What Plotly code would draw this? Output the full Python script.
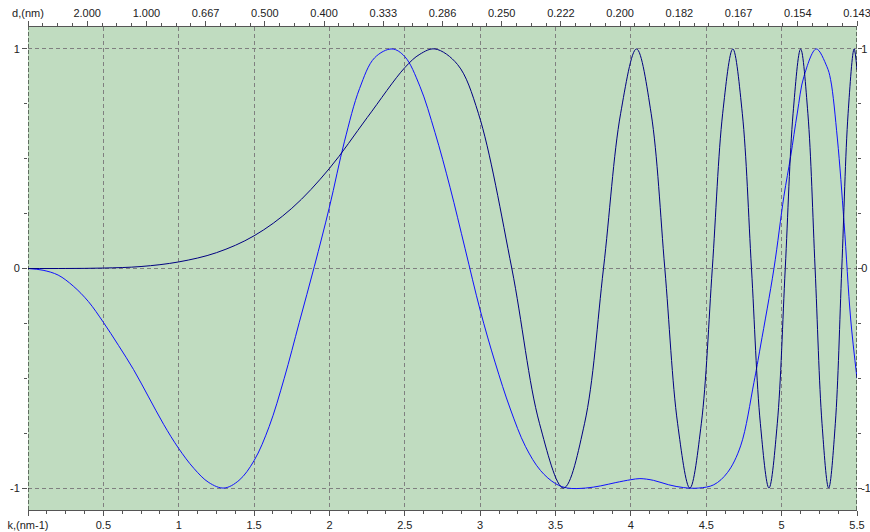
import plotly.graph_objects as go

# ---- data ----
k_tick_vals = [0, 0.5, 1, 1.5, 2, 2.5, 3, 3.5, 4, 4.5, 5, 5.5]
k_tick_text = ["k,(nm-1)", "0.5", "1", "1.5", "2", "2.5", "3", "3.5", "4", "4.5", "5", "5.5"]
# top axis: evenly spaced ticks (0 .. 7 in steps of 0.5), labelled in d (nm)
d_tick_vals = [0, 0.5, 1, 1.5, 2, 2.5, 3, 3.5, 4, 4.5, 5, 5.5, 6, 6.5, 7]
d_tick_text = ["d,(nm)", "2.000", "1.000", "0.667", "0.500", "0.400", "0.333", "0.286",
               "0.250", "0.222", "0.200", "0.182", "0.167", "0.154", "0.143"]
y_tick_vals = [-1, 0, 1]
y_tick_text = ["-1", "0", "1"]

# navy curve (chirped oscillation)
k_a = [0.0, 0.25, 0.5, 0.75, 1.0, 1.25, 1.5, 1.75, 2.0, 2.25, 2.5, 2.6, 2.7, 2.85, 2.988,
       3.21, 3.394, 3.553, 3.692, 3.818, 3.932, 4.037, 4.134, 4.225, 4.31, 4.391, 4.467,
       4.54, 4.609, 4.676, 4.739, 4.8, 4.859, 4.916, 4.971, 5.024, 5.076, 5.126, 5.174,
       5.222, 5.268, 5.312, 5.356, 5.399, 5.441, 5.481, 5.5]
v_a = [0.0, 0.0001, 0.002, 0.009, 0.03, 0.072, 0.149, 0.274, 0.456, 0.687, 0.915, 0.976, 1.0,
       0.929, 0.707, 0.0, -0.707, -1.0, -0.707, 0.0, 0.707, 1.0, 0.707, 0.0, -0.707, -1.0, -0.707,
       0.0, 0.707, 1.0, 0.707, 0.0, -0.707, -1.0, -0.707, 0.0, 0.707, 1.0, 0.707,
       0.0, -0.707, -1.0, -0.707, 0.0, 0.707, 1.0, 0.905]

# blue curve
k_b = [0.0, 0.1, 0.2, 0.3, 0.4, 0.5, 0.6, 0.7, 0.8, 0.9, 1.0, 1.1, 1.2, 1.3, 1.4, 1.5, 1.6,
       1.7, 1.8, 1.9, 2.0, 2.1, 2.2, 2.3, 2.415, 2.5, 2.6, 2.7, 2.8, 2.9, 3.0, 3.1, 3.2, 3.3,
       3.4, 3.5, 3.58, 3.7, 3.8, 3.9, 4.0, 4.06, 4.15, 4.25, 4.35, 4.45, 4.55, 4.64, 4.728,
       4.816, 4.86, 4.949, 5.015, 5.06, 5.104, 5.148, 5.23, 5.3, 5.325, 5.37, 5.414, 5.458, 5.5]
v_b = [0.0, -0.008, -0.03, -0.08, -0.15, -0.245, -0.35, -0.46, -0.585, -0.71, -0.82, -0.91,
       -0.975, -1.0, -0.965, -0.875, -0.72, -0.5, -0.245, 0.01, 0.28, 0.58, 0.82, 0.96, 1.0,
       0.965, 0.83, 0.62, 0.37, 0.09, -0.19, -0.43, -0.64, -0.81, -0.92, -0.98, -1.0, -1.0,
       -0.99, -0.975, -0.962, -0.957, -0.965, -0.985, -0.998, -1.0, -0.985, -0.93, -0.808,
       -0.52, -0.353, 0.0, 0.329, 0.511, 0.708, 0.875, 1.0, 0.92, 0.86, 0.59, 0.21, -0.23, -0.5]

# ---- styling ----
BG = "#c0dcc0"
GRID = "#808080"
AXC = "#555555"
FONT = dict(family="Liberation Sans, Arial, sans-serif", size=11, color="#222222")

fig = go.Figure()
fig.add_trace(go.Scatter(x=k_b, y=v_b, mode="lines", line=dict(color="#1010ff", width=1, shape="spline"),
                         hoverinfo="skip", showlegend=False))
fig.add_trace(go.Scatter(x=k_a, y=v_a, mode="lines", line=dict(color="#000080", width=1, shape="spline"),
                         hoverinfo="skip", showlegend=False))
# helper trace so the top and right axes are drawn
fig.add_trace(go.Scatter(x=[0, 7], y=[0, 0], xaxis="x2", yaxis="y2", mode="lines", opacity=0,
                         line=dict(width=0), hoverinfo="skip", showlegend=False))

minor_x = dict(tickmode="linear", tick0=0, dtick=0.125, ticks="outside", ticklen=3,
               tickcolor=AXC, showgrid=False)
minor_y = dict(tickmode="linear", tick0=0, dtick=0.25, ticks="outside", ticklen=3,
               tickcolor=AXC, showgrid=False)

fig.update_layout(
    width=870, height=532,
    margin=dict(l=28, r=13, t=27, b=22),
    paper_bgcolor="white", plot_bgcolor=BG,
    xaxis=dict(range=[0, 5.5], tickmode="array", tickvals=k_tick_vals, ticktext=k_tick_text,
               showgrid=True, gridcolor=GRID, gridwidth=1, griddash="4px,3px", zeroline=False,
               ticks="outside", ticklen=5, tickcolor=AXC, showline=True, linecolor=AXC,
               linewidth=1, tickfont=FONT, automargin=False, minor=minor_x,
               ticklabeloverflow="allow"),
    xaxis2=dict(range=[0, 7], overlaying="x", side="top", tickmode="array",
                tickvals=d_tick_vals, ticktext=d_tick_text, showgrid=False, zeroline=False,
                ticks="outside", ticklen=5, tickcolor=AXC, showline=True, linecolor=AXC,
                linewidth=1, tickfont=FONT, automargin=False, minor=minor_x,
                ticklabeloverflow="allow"),
    yaxis=dict(range=[-1.1, 1.1], tickmode="array", tickvals=y_tick_vals, ticktext=y_tick_text,
               showgrid=True, gridcolor=GRID, gridwidth=1, griddash="4px,3px", zeroline=False,
               ticks="outside", ticklen=5, tickcolor=AXC, showline=False, tickfont=FONT,
               automargin=False, minor=minor_y),
    yaxis2=dict(range=[-1.1, 1.1], overlaying="y", side="right", tickmode="array",
                tickvals=y_tick_vals, ticktext=y_tick_text, showgrid=False, zeroline=False,
                ticks="outside", ticklen=4, tickcolor=AXC, showline=False, tickfont=FONT,
                automargin=False, minor=minor_y, ticklabelstandoff=-3),
    shapes=[
        dict(type="line", xref="x", yref="paper", x0=0, x1=0, y0=0, y1=1,
             line=dict(color="#000000", width=1, dash="4px,2px")),
        dict(type="line", xref="x", yref="paper", x0=5.5, x1=5.5, y0=0, y1=1,
             line=dict(color="#000000", width=1, dash="4px,2px")),
    ],
)

fig.write_html("out.html")
